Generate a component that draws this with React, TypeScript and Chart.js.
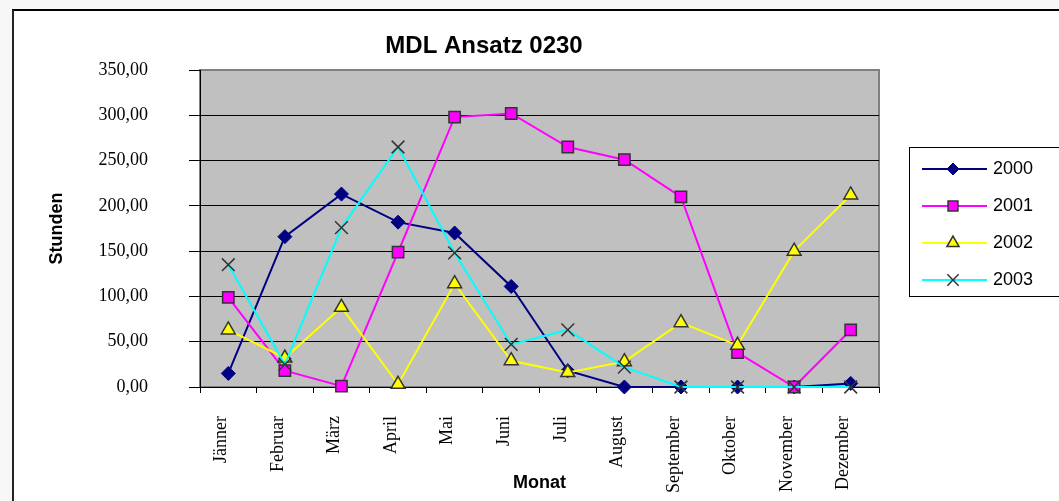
import React, { useEffect, useRef } from 'react';
import { Chart, registerables } from 'chart.js';
import { drawPoint } from 'chart.js/helpers';

Chart.register(...registerables);

const months = ['Jänner', 'Februar', 'März', 'April', 'Mai', 'Juni', 'Juli', 'August', 'September', 'Oktober', 'November', 'Dezember'];
const series2000 = [15, 166, 213, 182, 170, 111, 18, 0, 0, 0, 0, 4];
const series2001 = [99, 18, 1, 149, 298, 302, 265, 251, 210, 38, 0, 63];
const series2002 = [63, 32, 88, 3, 114, 29, 16, 28, 71, 46, 150, 212];
const series2003 = [135, 25, 176, 265, 148, 47, 63, 22, 0, 0, 0, 0];
const seriesLabels = ['2000', '2001', '2002', '2003'];
const yTicks = [0, 50, 100, 150, 200, 250, 300, 350];
const chartTitle = 'MDL Ansatz 0230';
const yTitle = 'Stunden';
const xTitle = 'Monat';

const SANS = '"Liberation Sans", Arial, sans-serif';
const SERIF = '"Liberation Serif", "Times New Roman", serif';

const plotBgPlugin = {
  id: 'plotBg',
  beforeDraw(chart: any) {
    const { ctx, chartArea: a } = chart;
    ctx.save();
    ctx.fillStyle = '#c0c0c0';
    ctx.fillRect(a.left, a.top, a.right - a.left, a.bottom - a.top);
    ctx.strokeStyle = '#808080';
    ctx.lineWidth = 2;
    ctx.strokeRect(a.left, a.top, a.right - a.left, a.bottom - a.top);
    ctx.restore();
  },
};

const titlePlugin = {
  id: 'customTitle',
  afterDraw(chart: any) {
    const { ctx } = chart;
    ctx.save();
    ctx.font = `bold 24px ${SANS}`;
    ctx.fillStyle = '#000';
    ctx.textAlign = 'center';
    ctx.textBaseline = 'middle';
    ctx.fillText(chartTitle, 484, 46);
    ctx.restore();
  },
};

const legendPlugin = {
  id: 'customLegend',
  afterDraw(chart: any) {
    const { ctx } = chart;
    const boxL = 909.5;
    const boxT = 147.5;
    ctx.save();
    ctx.strokeStyle = '#000';
    ctx.lineWidth = 1;
    ctx.strokeRect(boxL, boxT, 200, 149);
    chart.data.datasets.forEach((ds: any, i: number) => {
      const y = 169 + i * 37;
      ctx.strokeStyle = ds.borderColor;
      ctx.lineWidth = 2;
      ctx.beginPath();
      ctx.moveTo(922, y);
      ctx.lineTo(987, y);
      ctx.stroke();
      ctx.fillStyle = ds.pointBackgroundColor;
      ctx.strokeStyle = ds.pointBorderColor;
      ctx.lineWidth = ds.pointBorderWidth;
      drawPoint(ctx, { pointStyle: ds.pointStyle, radius: ds.pointRadius - 1, rotation: 0, borderWidth: ds.pointBorderWidth }, 953, y);
      ctx.fillStyle = '#000';
      ctx.font = `18px ${SANS}`;
      ctx.textAlign = 'left';
      ctx.textBaseline = 'middle';
      ctx.fillText(ds.label, 993, y);
    });
    ctx.restore();
  },
};

export default function App() {
  const canvasRef = useRef<HTMLCanvasElement>(null);

  useEffect(() => {
    if (!canvasRef.current) return;
    const chart = new Chart(canvasRef.current, {
      type: 'line',
      data: {
        labels: months,
        datasets: [
          {
            label: seriesLabels[0],
            data: series2000,
            borderColor: '#000080',
            backgroundColor: '#000080',
            borderWidth: 2,
            pointStyle: 'rectRot',
            pointRadius: 7,
            pointBackgroundColor: '#000080',
            pointBorderColor: '#000080',
            pointBorderWidth: 1,
            order: 3,
            clip: false,
          },
          {
            label: seriesLabels[1],
            data: series2001,
            borderColor: '#ff00ff',
            backgroundColor: '#ff00ff',
            borderWidth: 2,
            pointStyle: 'rect',
            pointRadius: 8,
            pointBackgroundColor: '#ff00ff',
            pointBorderColor: '#333333',
            pointBorderWidth: 1.5,
            order: 2,
            clip: false,
          },
          {
            label: seriesLabels[2],
            data: series2002,
            borderColor: '#ffff00',
            backgroundColor: '#ffff00',
            borderWidth: 2,
            pointStyle: 'triangle',
            pointRadius: 8,
            pointBackgroundColor: '#ffff00',
            pointBorderColor: '#333333',
            pointBorderWidth: 1.5,
            order: 1,
            clip: false,
          },
          {
            label: seriesLabels[3],
            data: series2003,
            borderColor: '#00ffff',
            backgroundColor: '#00ffff',
            borderWidth: 2,
            pointStyle: 'crossRot',
            pointRadius: 9,
            pointBackgroundColor: '#333333',
            pointBorderColor: '#333333',
            pointBorderWidth: 1.5,
            order: 0,
            clip: false,
          },
        ],
      },
      options: {
        responsive: false,
        animation: false,
        events: [],
        layout: { padding: { left: 42, right: 180, top: 70, bottom: 3 } },
        elements: { line: { tension: 0 } },
        plugins: {
          legend: { display: false },
          title: { display: false },
          tooltip: { enabled: false },
        },
        scales: {
          x: {
            type: 'category',
            offset: true,
            grid: {
              offset: true,
              drawOnChartArea: false,
              drawTicks: true,
              tickLength: 6,
              color: '#000',
            },
            border: { color: '#000', width: 1 },
            ticks: {
              autoSkip: false,
              minRotation: 90,
              maxRotation: 90,
              padding: 23,
              labelOffset: -7,
              color: '#000',
              font: { family: SERIF, size: 18 },
            },
            title: {
              display: true,
              text: xTitle,
              color: '#000',
              font: { family: SANS, size: 18, weight: 'bold' },
            },
            afterFit: (scale: any) => {
              scale.height = 111;
            },
          },
          y: {
            min: 0,
            max: 350,
            afterBuildTicks: (scale: any) => {
              scale.ticks = yTicks.map((v) => ({ value: v }));
            },
            grid: {
              color: (ctx: any) => (ctx.tick && ctx.tick.value === 350 ? 'rgba(0,0,0,0)' : '#000'),
              tickColor: '#000',
              tickLength: 11,
              lineWidth: 1,
            },
            border: { color: '#000', width: 1 },
            ticks: {
              padding: 41,
              color: '#000',
              font: { family: SERIF, size: 18 },
              callback: (v: any) => Number(v).toFixed(2).replace('.', ','),
            },
            title: {
              display: true,
              text: yTitle,
              color: '#000',
              font: { family: SANS, size: 18, weight: 'bold' },
            },
            afterFit: (scale: any) => {
              scale.width = 158;
            },
          },
        },
      },
      plugins: [plotBgPlugin, titlePlugin, legendPlugin],
    } as any);
    return () => chart.destroy();
  }, []);

  return (
    <div style={{ position: 'absolute', left: 0, top: 0, width: 1059, height: 501, background: '#f7f7f7', overflow: 'hidden' }}>
      <div
        style={{
          position: 'absolute',
          left: 12,
          top: 9,
          width: 1100,
          height: 600,
          background: '#fff',
          borderLeft: '2px solid #222',
          borderTop: '2px solid #000',
        }}
      />
      <canvas ref={canvasRef} width={1059} height={501} style={{ position: 'absolute', left: 0, top: 0, width: 1059, height: 501 }} />
    </div>
  );
}
